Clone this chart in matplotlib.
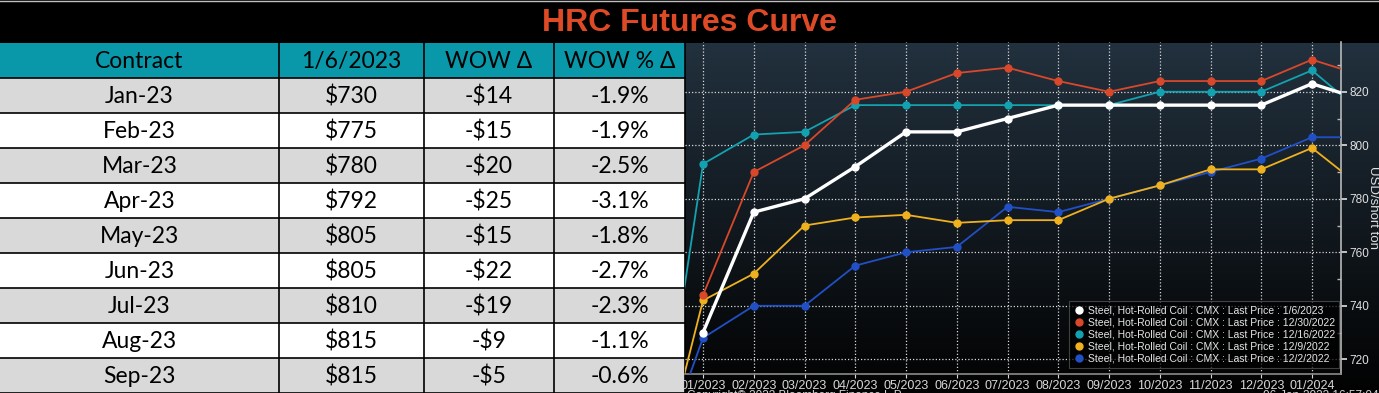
import numpy as np
import matplotlib
matplotlib.use("Agg")
import matplotlib.pyplot as plt
from matplotlib.patches import Rectangle
from matplotlib.lines import Line2D
from matplotlib.ticker import MultipleLocator, FixedLocator

# ---------------- data ----------------
title = "HRC Futures Curve"
table_header = ["Contract", "1/6/2023", "WOW \u0394", "WOW % \u0394"]
contracts = ["Jan-23", "Feb-23", "Mar-23", "Apr-23", "May-23", "Jun-23", "Jul-23", "Aug-23", "Sep-23"]
prices = ["$730", "$775", "$780", "$792", "$805", "$805", "$810", "$815", "$815"]
wow_change = ["-$14", "-$15", "-$20", "-$25", "-$15", "-$22", "-$19", "-$9", "-$5"]
wow_pct = ["-1.9%", "-1.9%", "-2.5%", "-3.1%", "-1.8%", "-2.7%", "-2.3%", "-1.1%", "-0.6%"]

# curve months: 12/2022 .. 02/2024 (index 0..14); ticks shown for 01/2023..01/2024
month_labels = ["01/2023", "02/2023", "03/2023", "04/2023", "05/2023", "06/2023", "07/2023",
                "08/2023", "09/2023", "10/2023", "11/2023", "12/2023", "01/2024"]
nan = np.nan
curve_0106 = [nan, 730, 775, 780, 792, 805, 805, 810, 815, 815, 815, 815, 815, 823, 817]
curve_1230 = [nan, 744, 790, 800, 817, 820, 827, 829, 824, 820, 824, 824, 824, 832, 826]
curve_1216 = [667, 793, 804, 805, 815, 815, 815, 815, 815, 815, 820, 820, 820, 828, 812]
curve_1209 = [667, 742, 752, 770, 773, 774, 771, 772, 772, 780, 785, 791, 791, 799, 784]
curve_1202 = [675, 728, 740, 740, 755, 760, 762, 777, 775, 780, 785, 790, 795, 803, 803]
series_labels = ["Steel, Hot-Rolled Coil : CMX : Last Price : 1/6/2023",
                 "Steel, Hot-Rolled Coil : CMX : Last Price : 12/30/2022",
                 "Steel, Hot-Rolled Coil : CMX : Last Price : 12/16/2022",
                 "Steel, Hot-Rolled Coil : CMX : Last Price : 12/9/2022",
                 "Steel, Hot-Rolled Coil : CMX : Last Price : 12/2/2022"]
series_values = [curve_0106, curve_1230, curve_1216, curve_1209, curve_1202]
series_colors = ["#ffffff", "#d9482a", "#13a2b0", "#f0b11e", "#2150c6"]

# ---------------- figure ----------------
W, H = 1379, 393
fig = plt.figure(figsize=(W / 100, H / 100), dpi=100)
fig.patch.set_facecolor("black")
base = fig.add_axes([0, 0, 1, 1])
base.set_xlim(0, W)
base.set_ylim(H, 0)
base.axis("off")

# title band
base.add_patch(Rectangle((0, 0), W, 43, facecolor="black", edgecolor="none", zorder=1))
base.plot([0, W], [0.5, 0.5], color="#bfbfbf", lw=1, zorder=2)
base.text(689, 23, title, ha="center", va="center", color="#df4a26",
          fontsize=23, fontweight="bold", family="Liberation Sans", zorder=3)

# chart panel gradient
top = np.array([0x22, 0x31, 0x3e]) / 255
bot = np.array([0x02, 0x02, 0x02]) / 255
t = np.linspace(0, 1, 256)[:, None]
grad = (top[None, :] * (1 - t) + bot[None, :] * t)[:, None, :]
base.imshow(grad, extent=[685, W, H, 43], origin="upper", aspect="auto", zorder=0.5)
base.set_xlim(0, W)
base.set_ylim(H, 0)

# table
col_edges = [0, 279, 424, 554, 685]
row_top = 43
hdr_h = 35
row_h = 35
tfont = dict(family="Lato", fontsize=16.5, color="black")
for j in range(4):
    x0, x1 = col_edges[j], col_edges[j + 1]
    base.add_patch(Rectangle((x0, row_top), x1 - x0, hdr_h, facecolor="#0898aa",
                             edgecolor="none", zorder=1))
    base.text((x0 + x1) / 2, row_top + hdr_h / 2 + 1, table_header[j], ha="center",
              va="center", zorder=3, **tfont)
for i in range(len(contracts)):
    y0 = row_top + hdr_h + i * row_h
    fc = "#d9d9d9" if i % 2 == 0 else "#ffffff"
    base.add_patch(Rectangle((0, y0), 685, row_h, facecolor=fc, edgecolor="none", zorder=1))
    vals = [contracts[i], prices[i], wow_change[i], wow_pct[i]]
    for j in range(4):
        x0, x1 = col_edges[j], col_edges[j + 1]
        base.text((x0 + x1) / 2, y0 + row_h / 2 + 1, vals[j], ha="center", va="center",
                  zorder=3, **tfont)
# grid lines of table
for xe in col_edges[1:]:
    base.plot([xe, xe], [row_top, H], color="black", lw=1.2, zorder=2)
for i in range(len(contracts) + 1):
    y = row_top + hdr_h + i * row_h
    base.plot([0, 685], [y, y], color="black", lw=1.2, zorder=2)

# ---------------- chart axes ----------------
px0, px1, py0, py1 = 685, 1341, 42, 374
ax = fig.add_axes([px0 / W, 1 - py1 / H, (px1 - px0) / W, (py1 - py0) / H])
ax.patch.set_alpha(0)
x = np.arange(len(curve_0106))
for vals, col, lab in zip(series_values[::-1], series_colors[::-1], series_labels[::-1]):
    lw = 2.4 if col == "#ffffff" else 1.3
    ax.plot(x, vals, color=col, lw=lw, marker="o", ms=5, mec=col, mfc=col, zorder=3)

ax.set_xlim(0.645, 13.571)
ax.set_ylim(714.5, 838.6)
ax.xaxis.set_major_locator(FixedLocator(np.arange(1, 14)))
ax.set_xticklabels(month_labels)
ax.yaxis.set_major_locator(MultipleLocator(20))
ax.yaxis.set_minor_locator(FixedLocator([730, 750, 770, 790, 810, 830]))
ax.yaxis.tick_right()
ax.grid(True, which="major", color="#d8d8d8", linestyle=(0, (1, 1.6)), lw=0.9, zorder=1)
for s in ["top", "left"]:
    ax.spines[s].set_visible(False)
ax.spines["right"].set_color("#b8b8b8")
ax.spines["right"].set_linewidth(1.2)
ax.spines["bottom"].set_color("#8a8a8a")
ax.spines["bottom"].set_linewidth(1.2)
cfont = ["Liberation Sans Narrow", "Liberation Sans"]
ax.tick_params(axis="y", which="major", direction="out", length=4, width=1.2,
               colors="#e0e0e0", labelsize=8.5, pad=2)
ax.tick_params(axis="y", which="minor", direction="in", length=3, width=1, color="#b8b8b8")
ax.tick_params(axis="x", which="major", direction="out", length=3, width=0.8,
               colors="#d8d8d8", labelsize=9, pad=1.5)
for lbl in ax.get_xticklabels() + ax.get_yticklabels():
    lbl.set_family(cfont)

handles = [Line2D([], [], ls="none", marker="o", ms=5, mfc=c, mec=c) for c in series_colors]
leg = ax.legend(handles, series_labels, loc="lower right", bbox_to_anchor=(0.997, 0.018),
                frameon=True, handletextpad=0.2, labelspacing=0.2,
                borderpad=0.4, handlelength=1.2, borderaxespad=0,
                prop={"family": cfont, "size": 7.5})
leg.get_frame().set_facecolor("#000000")
leg.get_frame().set_alpha(0.7)
leg.get_frame().set_edgecolor("#5a5a5a")
leg.get_frame().set_linewidth(0.8)
leg.get_frame().set_boxstyle("square", pad=0)
for txt in leg.get_texts():
    txt.set_color("#e6e6e6")
leg.set_zorder(5)

# y-axis unit label
base.text(1373, 207, "USD/short ton", rotation=270, ha="center", va="center",
          color="#e0e0e0", fontsize=9.5, family="Liberation Sans", zorder=3)

# footer texts (partially cut off at bottom)
base.text(687, 390, "Copyright\u00a9 2023 Bloomberg Finance L.P.", ha="left", va="top",
          color="#d0d0d0", fontsize=8.5, family=cfont, zorder=3)
base.text(1379, 390, "06-Jan-2023 16:57:04", ha="right", va="top",
          color="#d0d0d0", fontsize=8.5, family=cfont, zorder=3)

fig.savefig("out.png", dpi=100, facecolor=fig.get_facecolor())
